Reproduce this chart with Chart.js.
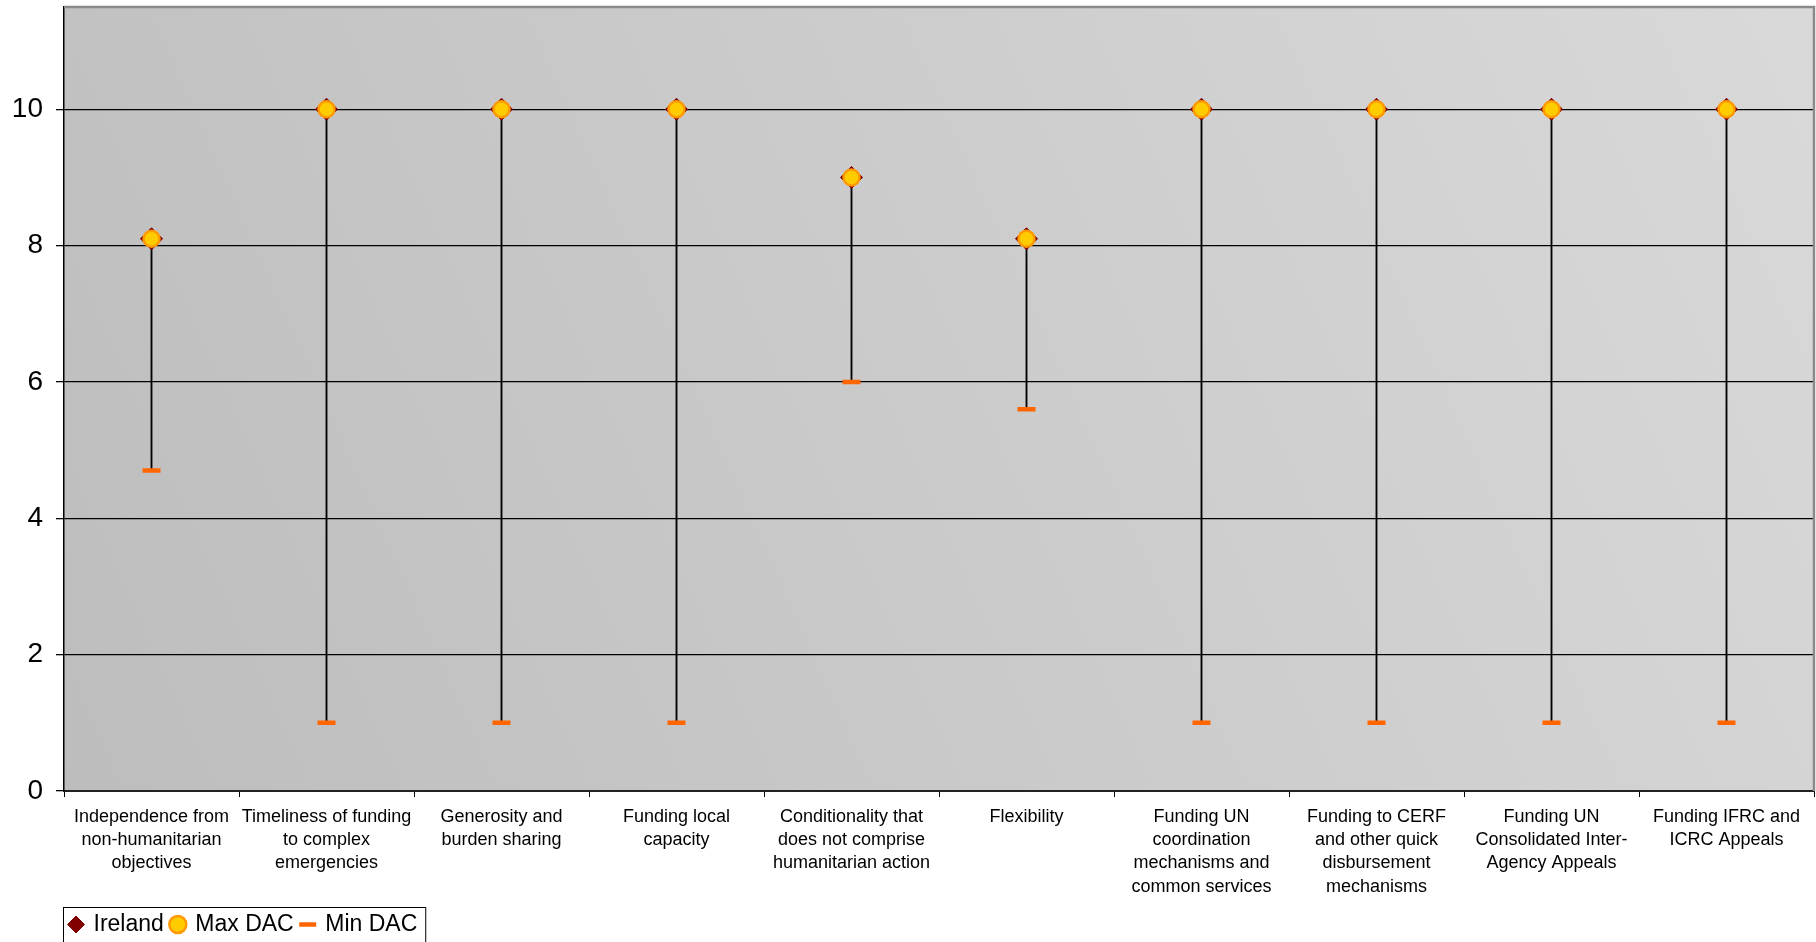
<!DOCTYPE html>
<html>
<head>
<meta charset="utf-8">
<script src="https://cdn.jsdelivr.net/npm/chart.js@4"></script>
<style>
  html, body { margin: 0; padding: 0; background: #fff; }
  #wrap { width: 1816px; height: 942px; }
</style>
</head>
<body>
<div id="wrap"><canvas id="chart" width="1816" height="942"></canvas></div>
<script>
// ---- Data ----
const categories = [
    ['Independence from', 'non-humanitarian', 'objectives'],
    ['Timeliness of funding', 'to complex', 'emergencies'],
    ['Generosity and', 'burden sharing'],
    ['Funding local', 'capacity'],
    ['Conditionality that', 'does not comprise', 'humanitarian action'],
    ['Flexibility'],
    ['Funding UN', 'coordination', 'mechanisms and', 'common services'],
    ['Funding to CERF', 'and other quick', 'disbursement', 'mechanisms'],
    ['Funding UN', 'Consolidated Inter-', 'Agency Appeals'],
    ['Funding IFRC and', 'ICRC Appeals']
];
const ireland = [8.1, 10, 10, 10, 9, 8.1, 10, 10, 10, 10];
const maxDac  = [8.1, 10, 10, 10, 9, 8.1, 10, 10, 10, 10];
const minDac  = [4.7, 1, 1, 1, 6, 5.6, 1, 1, 1, 1];
const yTicks  = [0, 2, 4, 6, 8, 10];
const legendOrder = ['Ireland', 'Max DAC', 'Min DAC'];

const FONT = '"Liberation Sans", Arial, sans-serif';

// plot background, frame and legend box
const decorPlugin = {
    id: 'decor',
    afterLayout(chart) {
        // legend sits a bit in from the left edge, under the plot
        if (chart.legend) {
            chart.legend.left = 62;
            chart.legend.top += 4;
        }
    },
    beforeDraw(chart) {
        const { ctx, chartArea: a } = chart;
        ctx.save();
        const g = ctx.createLinearGradient(a.left, a.bottom, a.right, a.top);
        g.addColorStop(0, '#bdbdbd');
        g.addColorStop(1, '#d9d9d9');
        ctx.fillStyle = g;
        ctx.fillRect(a.left, a.top, a.right - a.left, a.bottom - a.top);

        // legend frame
        const boxes = chart.legend && chart.legend.legendHitBoxes;
        if (boxes && boxes.length) {
            const first = boxes[0], last = boxes[boxes.length - 1];
            const x0 = first.left - 7, y0 = first.top - 6;
            const x1 = last.left + last.width + 8;
            ctx.fillStyle = '#fff';
            ctx.fillRect(x0, y0, x1 - x0, 40);
            ctx.strokeStyle = '#000';
            ctx.lineWidth = 1;
            ctx.strokeRect(x0 + 0.5, y0 + 0.5, x1 - x0, 40);
        }
        ctx.restore();
    },
    afterDraw(chart) {
        const { ctx, chartArea: a } = chart;
        ctx.save();
        ctx.strokeStyle = '#8a8a8a';
        ctx.lineWidth = 2.5;
        ctx.beginPath();
        ctx.moveTo(a.left, a.top);
        ctx.lineTo(a.right, a.top);
        ctx.lineTo(a.right, a.bottom);
        ctx.stroke();
        ctx.restore();
    }
};

new Chart(document.getElementById('chart'), {
    type: 'bar',
    data: {
        labels: categories,
        datasets: [
            {
                type: 'line',
                label: 'Max DAC',
                data: maxDac,
                showLine: false,
                order: 0,
                pointStyle: 'circle',
                pointRadius: 8,
                pointBackgroundColor: '#FFCC00',
                pointBorderColor: '#FF9900',
                pointBorderWidth: 2.5,
                backgroundColor: '#FFCC00',
                borderColor: '#FF9900'
            },
            {
                type: 'line',
                label: 'Ireland',
                data: ireland,
                showLine: false,
                order: 1,
                pointStyle: 'rectRot',
                pointRadius: 11,
                pointBackgroundColor: '#800000',
                pointBorderColor: '#800000',
                pointBorderWidth: 1,
                backgroundColor: '#800000',
                borderColor: '#800000'
            },
            {
                type: 'line',
                label: 'Min DAC',
                data: minDac,
                showLine: false,
                order: 2,
                pointStyle: 'line',
                pointRadius: 9,
                pointBorderColor: '#FF6600',
                pointBorderWidth: 4.5,
                backgroundColor: '#FF6600',
                borderColor: '#FF6600'
            },
            {
                label: 'range',
                data: minDac.map((m, i) => [m, maxDac[i]]),
                order: 3,
                backgroundColor: '#000',
                barThickness: 1.2
            }
        ]
    },
    options: {
        responsive: false,
        devicePixelRatio: 1,
        animation: false,
        events: [],
        layout: { autoPadding: false, padding: { left: 0, right: 2, top: 7, bottom: 0 } },
        plugins: {
            tooltip: { enabled: false },
            legend: {
                position: 'bottom',
                align: 'start',
                labels: {
                    usePointStyle: true,
                    boxWidth: 12,
                    boxHeight: 12,
                    padding: 8,
                    color: '#000',
                    font: { family: FONT, size: 23 },
                    filter: item => legendOrder.includes(item.text),
                    sort: (a, b) => legendOrder.indexOf(a.text) - legendOrder.indexOf(b.text)
                }
            }
        },
        scales: {
            x: {
                grid: {
                    drawOnChartArea: false,
                    drawTicks: true,
                    tickLength: 6,
                    color: '#000'
                },
                border: { color: '#222', width: 2 },
                ticks: {
                    color: '#000',
                    padding: 8,
                    maxRotation: 0,
                    autoSkip: false,
                    font: { family: FONT, size: 18, lineHeight: 1.3 }
                },
                afterFit(scale) {
                    scale.height = 110;
                    scale.paddingLeft = 0;
                    scale.paddingRight = 0;
                }
            },
            y: {
                min: 0,
                max: 11.5,
                afterBuildTicks(scale) {
                    scale.ticks = yTicks.map(v => ({ value: v }));
                },
                grid: { color: '#000', lineWidth: 1.3, tickLength: 8 },
                border: { color: '#000', width: 1.5 },
                ticks: {
                    color: '#000',
                    padding: 13,
                    font: { family: FONT, size: 28 }
                },
                afterFit(scale) {
                    scale.width = 64;
                    scale.paddingTop = 0;
                    scale.paddingBottom = 0;
                }
            }
        }
    },
    plugins: [decorPlugin]
});
</script>
</body>
</html>
